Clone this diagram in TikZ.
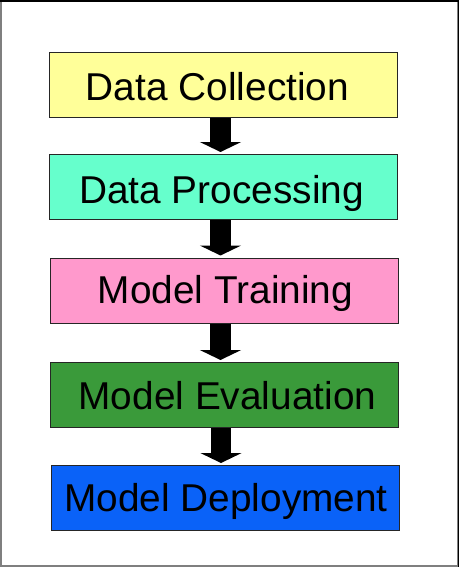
\documentclass[tikz,border=0pt]{standalone}
\usepackage{fontspec}
\setmainfont{Liberation Sans}
\usetikzlibrary{arrows.meta}
\definecolor{cyel}{HTML}{FFFF99}
\definecolor{cteal}{HTML}{66FFCC}
\definecolor{cpink}{HTML}{FF99CC}
\definecolor{cgreen}{HTML}{3A9A3A}
\definecolor{cblue}{HTML}{0A62F8}
\definecolor{cframe}{HTML}{7F7F7F}
\begin{document}
\begin{tikzpicture}[x=1pt,y=-1pt,
  stage/.style={draw=black!85,line width=1pt,minimum width=348pt,minimum height=65pt,inner sep=0pt,
    text height=27pt,text depth=0pt,
    font=\fontsize{38.8}{40}\selectfont, text=black},
  fatarrow/.style={line width=20.5pt,-{Triangle[width=41pt,length=10pt]},shorten >=2pt,black}]
\useasboundingbox (0,0) rectangle (459,567);
\fill[cframe] (0,0) rectangle (459,567);
\fill[white] (2,2.5) rectangle (457,565);
\fill[black] (0,0) rectangle (459,2.5);
\fill[black] (457.8,0) rectangle (459,567);
\node[stage,fill=cyel]   (dc) at (223,85.5)  {\hspace*{-11pt}\raisebox{-2pt}{Data Collection}};
\node[stage,fill=cteal]  (dp) at (223.5,187) {\hspace*{-4pt}\raisebox{-3pt}{Data Processing}};
\node[stage,fill=cpink]  (mt) at (224,290.5) {\hspace*{3pt}\raisebox{0.5pt}{Model Training}};
\node[stage,fill=cgreen] (me) at (224.5,395) {\hspace*{6pt}\raisebox{-1pt}{Model Evaluation}};
\node[stage,fill=cblue]  (md) at (225.5,498) {\hspace*{1pt}Model Deployment};
\draw[fatarrow] (dc.south -| 220.5,0) -- (dp.north -| 220.5,0);
\draw[fatarrow] (dp.south -| 220.5,0) -- (mt.north -| 220.5,0);
\draw[fatarrow] (mt.south -| 220.5,0) -- (me.north -| 220.5,0);
\draw[fatarrow] (me.south -| 221,0) -- (md.north -| 221,0);
\end{tikzpicture}
\end{document}
